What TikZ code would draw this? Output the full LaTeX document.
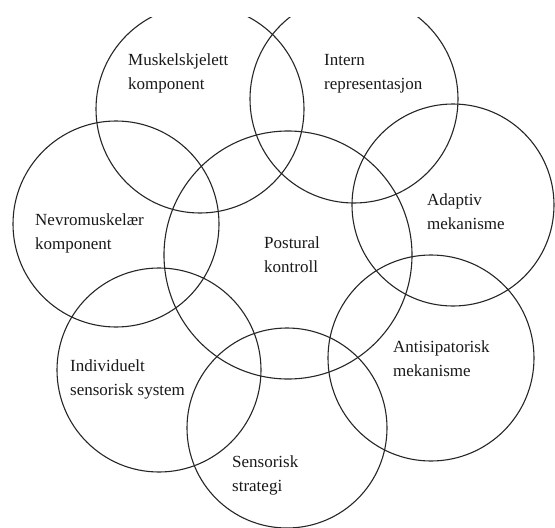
\documentclass[tikz,border=0pt]{standalone}
\usepackage{fontspec}
\setmainfont{Liberation Serif}

\tikzset{
  ring/.style={line width=1.1pt, black!85},
  lbl/.style={font=\fontsize{17}{24}\selectfont, align=left, anchor=base west, inner sep=0pt, black!90}
}

\begin{document}
\begin{tikzpicture}[x=1pt, y=-1pt]
  \useasboundingbox (0,0) rectangle (555,528);
  \begin{scope}
    \clip (0,17) rectangle (555,528);
    \coordinate (muskel) at (200,109);
    \coordinate (intern) at (354,99);
    \coordinate (nevro) at (116,224);
    \coordinate (postural) at (288,255);
    \coordinate (adaptiv) at (453,205);
    \coordinate (individ) at (159,370);
    \coordinate (antisip) at (431,358);
    \coordinate (strategi) at (287,428);
    \draw[ring] (muskel) circle (104);
    \draw[ring] (intern) circle (104);
    \draw[ring] (nevro) circle (103);
    \draw[ring] (postural) circle (124);
    \draw[ring] (adaptiv) circle (101);
    \draw[ring] (individ) circle (102);
    \draw[ring] (antisip) circle (103);
    \draw[ring] (strategi) circle (100);
  \end{scope}
  % base anchor sits on the second line
  \node[lbl] (t-muskel) at (128,89) {Muskelskjelett\\komponent};
  \node[lbl] (t-intern) at (324,89) {Intern\\representasjon};
  \node[lbl] (t-nevro) at (35,249) {Nevromuskelær\\komponent};
  \node[lbl] (t-postural) at (264,272) {Postural\\kontroll};
  \node[lbl] (t-adaptiv) at (427,229) {Adaptiv\\mekanisme};
  \node[lbl] (t-individ) at (70,395) {Individuelt\\sensorisk system};
  \node[lbl] (t-antisip) at (393,376) {Antisipatorisk\\mekanisme};
  \node[lbl] (t-strategi) at (232,491) {Sensorisk\\strategi};
\end{tikzpicture}
\end{document}
